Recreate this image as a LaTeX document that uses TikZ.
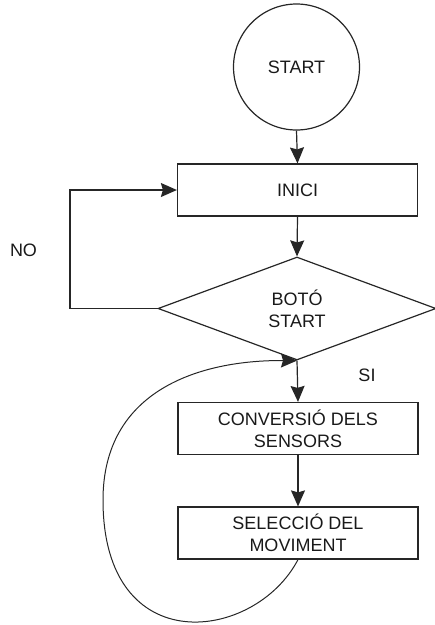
\documentclass[tikz,border=0pt]{standalone}
\usepackage{fontspec}
\setmainfont{Liberation Sans}
\usetikzlibrary{shapes.geometric,arrows.meta}
\begin{document}
\begin{tikzpicture}[x=1pt,y=-1pt,
  every node/.style={font=\fontsize{18}{22}\selectfont, text=black!90},
  box/.style={draw=black!85, line width=1.2pt, rectangle, minimum width=240pt, minimum height=52pt, inner sep=0pt, align=center},
  decision/.style={draw=black!85, line width=1.2pt, diamond, minimum width=278pt, minimum height=103pt, inner sep=0pt, align=center},
  startnode/.style={draw=black!85, line width=1.2pt, circle, minimum size=126pt, inner sep=0pt},
  arr/.style={draw=black!85, line width=1.2pt, -{Stealth[length=16pt,width=14pt,inset=2pt]}},
  lbl/.style={inner sep=0pt}
]
\useasboundingbox (0,0) rectangle (435,625);
\node[startnode] (start) at (296.5,67) {START};
\node[box] (inici) at (297.5,190) {INICI};
\node[decision] (boto) at (297,308.5) {BOTÓ\\START};
\node[box] (conv) at (298,428.5) {CONVERSIÓ DELS\\SENSORS};
\node[box] (sel) at (298,533) {SELECCIÓ DEL\\MOVIMENT};
\node[lbl] (no) at (23.5,250.5) {NO};
\node[lbl] (si) at (367,375) {SI};
\coordinate (left) at (103,500);
\draw[arr] (start.south) -- (inici.north);
\draw[arr] (inici.south) -- (boto.north);
\draw[arr] (boto.west) -- (70,308.5) |- (inici.west);
\draw[arr] (boto.south) -- (conv.north);
\draw[arr] (conv.south) -- (sel.north);
\draw[arr, line width=1pt] (sel.south) .. controls (255,642) and (103,662) .. (left)
  .. controls (103,390) and (200,360) .. (boto.south);
\end{tikzpicture}
\end{document}
